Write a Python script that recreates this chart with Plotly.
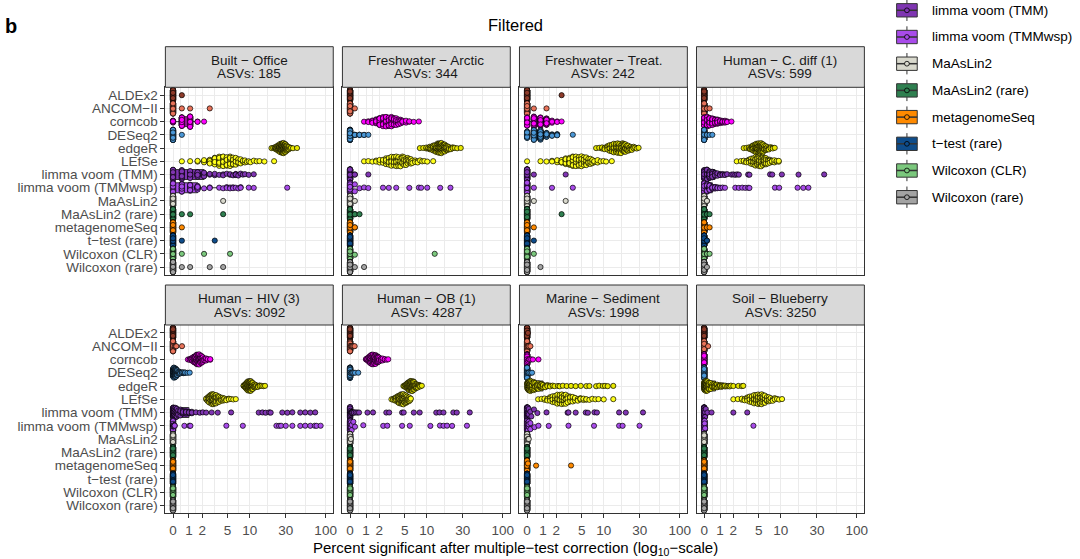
import numpy as np
import plotly.graph_objects as go

# ---------------- data ----------------
METHODS = ["ALDEx2", "ANCOM−II", "corncob", "DESeq2", "edgeR", "LEfSe",
           "limma voom (TMM)", "limma voom (TMMwsp)", "MaAsLin2", "MaAsLin2 (rare)",
           "metagenomeSeq", "t−test (rare)", "Wilcoxon (CLR)", "Wilcoxon (rare)"]
COLORS = ["#8E3B2A", "#E8735A", "#FF00FF", "#4A97D6", "#E8E800", "#FFFF1A",
          "#7F35B2", "#A84BEA", "#D8D8CC", "#2F8050", "#FF8A00", "#0E4C8A",
          "#7BC87D", "#A3A3A3"]
PANEL_TITLES = ["Built − Office", "Freshwater − Arctic", "Freshwater − Treat.", "Human − C. diff (1)",
                "Human − HIV (3)", "Human − OB (1)", "Marine − Sediment", "Soil − Blueberry"]
ASVS = [185, 344, 242, 599, 3092, 4287, 1998, 3250]
X_TICKS = [0, 1, 2, 5, 10, 30, 100]

# each entry: per method (METHODS order) list of (percent significant, number of replicates)
built_office = [
    [(0, 99), (0.54, 1)],
    [(0, 97), (0.54, 1), (1.08, 1), (2.70, 1)],
    [(0, 10), (0.54, 40), (1.08, 47), (1.62, 2), (2.16, 1)],
    [(0, 99), (0.54, 1)],
    [(19.46, 1), (20.54, 1), (21.62, 2), (22.16, 2), (22.70, 3), (23.24, 3), (23.78, 4), (24.32, 5), (24.86, 5),
     (25.41, 6), (25.95, 6), (26.49, 7), (27.03, 7), (27.57, 6), (28.11, 7), (28.65, 6), (29.19, 6), (29.73, 5),
     (30.27, 4), (30.81, 3), (31.35, 3), (31.89, 2), (32.97, 2), (34.05, 1), (35.14, 1), (37.30, 1), (42.16, 1)],
    [(0.54, 1), (1.08, 1), (1.62, 2), (2.16, 4), (2.70, 7), (3.24, 10), (3.78, 12), (4.32, 12), (4.86, 10),
     (5.41, 9), (5.95, 7), (6.49, 6), (7.03, 4), (7.57, 3), (8.11, 2), (8.65, 2), (9.19, 1), (9.73, 1),
     (10.27, 1), (11.35, 1), (12.43, 1), (13.51, 1), (15.68, 1), (21.08, 1)],
    [(0, 35), (0.54, 18), (1.08, 12), (1.62, 8), (2.16, 7), (2.70, 2), (3.24, 2), (3.78, 1), (4.32, 2), (4.86, 1),
     (5.41, 2), (5.95, 1), (6.49, 3), (7.03, 1), (7.57, 1), (8.11, 1), (8.65, 1), (9.73, 1), (11.35, 1)],
    [(0, 40), (0.54, 18), (1.08, 14), (1.62, 10), (2.16, 1), (2.70, 2), (3.78, 1), (4.32, 1), (4.86, 2),
     (5.41, 2), (5.95, 2), (6.49, 1), (7.03, 1), (7.57, 2), (9.73, 1), (11.35, 1), (31.35, 1)],
    [(0, 99), (4.32, 1)],
    [(0, 97), (0.54, 1), (1.08, 1), (4.32, 1)],
    [(0, 99), (0.54, 1)],
    [(0, 98), (0.54, 1), (3.24, 1)],
    [(0, 97), (0.54, 1), (2.16, 1), (5.41, 1)],
    [(0, 96), (0.54, 1), (1.08, 1), (2.70, 1), (4.32, 1)],
]

freshwater_arctic = [
    [(0, 100)],
    [(0, 99), (0.29, 1)],
    [(0.87, 1), (1.16, 2), (1.45, 4), (1.74, 7), (2.03, 10), (2.33, 12), (2.62, 12), (2.91, 11), (3.20, 9),
     (3.49, 8), (3.78, 6), (4.07, 5), (4.36, 4), (4.65, 3), (5.23, 2), (5.81, 2), (6.69, 1), (7.85, 1)],
    [(0, 90), (0.29, 4), (0.58, 3), (0.87, 2), (1.16, 1)],
    [(8.1, 1), (9.0, 1), (9.9, 2), (10.5, 2), (11.0, 3), (11.6, 4), (12.2, 5), (12.8, 6), (13.4, 7), (14.0, 8),
     (14.5, 8), (15.1, 8), (15.4, 1), (15.7, 8), (16.3, 7), (16.9, 6), (17.4, 5), (18.0, 4), (18.9, 4),
     (19.8, 3), (20.9, 2), (22.1, 2), (23.5, 1), (25.3, 1), (28.2, 1)],
    [(0.87, 1), (1.16, 1), (1.45, 1), (1.74, 2), (2.03, 3), (2.33, 4), (2.62, 6), (2.91, 7), (3.20, 8),
     (3.49, 8), (3.78, 8), (4.07, 7), (4.36, 7), (4.65, 6), (4.94, 5), (5.23, 5), (5.52, 4), (5.81, 3),
     (6.10, 3), (6.40, 2), (6.98, 2), (7.56, 2), (8.14, 1), (8.72, 1), (9.30, 1), (10.17, 1), (12.21, 1)],
    [(0, 97), (0.29, 2), (1.16, 1)],
    [(0, 86), (0.29, 2), (0.58, 1), (0.87, 1), (1.16, 1), (2.33, 1), (2.91, 1), (3.78, 1), (5.81, 1),
     (7.85, 1), (8.43, 1), (10.17, 1), (15.12, 1), (20.64, 1)],
    [(0, 99), (0.29, 1)],
    [(0, 97), (0.29, 2), (0.58, 1)],
    [(0, 98), (0.29, 2)],
    [(0, 100)],
    [(0, 98), (0.29, 1), (12.79, 1)],
    [(0, 98), (0.29, 1), (0.87, 1)],
]

freshwater_treat = [
    [(0, 99), (2.48, 1)],
    [(0, 98), (0.41, 1), (1.24, 1)],
    [(0, 25), (0.41, 28), (0.83, 22), (1.24, 18), (1.65, 4), (2.07, 2), (2.48, 1)],
    [(0, 20), (0.41, 30), (0.83, 28), (1.24, 12), (1.65, 5), (2.07, 4), (3.72, 1)],
    [(7.9, 1), (8.7, 1), (9.5, 2), (10.3, 3), (11.2, 4), (12.0, 6), (12.8, 7), (13.6, 8), (14.5, 8), (15.3, 8),
     (16.1, 8), (16.9, 7), (17.8, 7), (18.6, 6), (19.4, 5), (20.2, 4), (21.1, 3), (21.9, 3), (22.7, 2),
     (23.6, 2), (24.8, 2), (26.0, 1), (27.3, 1), (28.9, 1)],
    [(0, 1), (0.83, 1), (1.24, 1), (1.65, 2), (2.07, 3), (2.48, 5), (2.89, 7), (3.31, 9), (3.72, 11), (4.13, 10),
     (4.55, 9), (4.96, 8), (5.37, 7), (5.79, 6), (6.20, 5), (6.61, 4), (7.02, 3), (7.44, 2), (8.26, 2),
     (9.09, 1), (9.92, 1), (10.74, 1), (12.81, 1)],
    [(0, 98), (0.41, 1), (2.89, 1)],
    [(0, 97), (0.41, 1), (1.65, 1), (3.72, 1)],
    [(0, 98), (0.41, 1), (2.89, 1)],
    [(0, 99), (2.48, 1)],
    [(0, 99), (0.41, 1)],
    [(0, 99), (0.41, 1)],
    [(0, 99), (0.41, 1)],
    [(0, 99), (0.83, 1)],
]

human_cdiff = [
    [(0, 100)],
    [(0, 97), (0.17, 2), (0.33, 1)],
    [(0, 25), (0.17, 18), (0.33, 14), (0.50, 11), (0.67, 9), (0.83, 8), (1.00, 5), (1.17, 4), (1.34, 3),
     (1.50, 2), (1.84, 1)],
    [(0, 96), (0.17, 2), (0.33, 1), (0.50, 1)],
    [(3.0, 1), (3.3, 1), (3.6, 2), (3.8, 3), (4.0, 4), (4.2, 6), (4.4, 7), (4.6, 8), (4.8, 9), (5.0, 9),
     (5.2, 9), (5.4, 8), (5.6, 7), (5.8, 6), (6.0, 5), (6.3, 4), (6.6, 3), (6.9, 3), (7.3, 2), (7.8, 2), (8.3, 1)],
    [(2.3, 1), (2.7, 1), (3.0, 2), (3.3, 3), (3.6, 4), (3.9, 6), (4.2, 8), (4.5, 9), (4.8, 10), (5.1, 10),
     (5.4, 9), (5.7, 8), (6.0, 7), (6.3, 5), (6.7, 4), (7.1, 4), (7.6, 3), (8.2, 2), (8.8, 2), (9.4, 2)],
    [(0, 30), (0.17, 18), (0.33, 14), (0.50, 9), (0.67, 6), (0.83, 3), (1.00, 3), (1.17, 2), (1.34, 2),
     (1.50, 1), (1.84, 1), (2.00, 1), (2.17, 1), (2.34, 1), (2.50, 1), (3.51, 1), (3.67, 1), (7.18, 1),
     (7.68, 1), (10.35, 1), (17.20, 1), (37.40, 1)],
    [(0, 42), (0.17, 18), (0.33, 12), (0.50, 6), (0.67, 4), (0.83, 3), (1.00, 2), (1.17, 1), (1.34, 1),
     (2.17, 1), (2.50, 1), (2.84, 1), (3.17, 1), (3.51, 1), (3.67, 1), (8.35, 1), (9.52, 1), (16.70, 1),
     (19.87, 1), (23.21, 1)],
    [(0, 98), (0.17, 2)],
    [(0, 97), (0.17, 2), (0.33, 1)],
    [(0, 97), (0.17, 2), (0.33, 1)],
    [(0, 98), (0.17, 2)],
    [(0, 97), (0.17, 2), (0.33, 1)],
    [(0, 99), (0.17, 1)],
]

human_hiv = [
    [(0, 100)],
    [(0, 96), (0.10, 1), (0.16, 1), (0.20, 1), (0.55, 1)],
    [(0.93, 1), (1.05, 2), (1.15, 3), (1.25, 5), (1.35, 7), (1.45, 10), (1.55, 12), (1.65, 13), (1.75, 12),
     (1.85, 10), (1.95, 8), (2.05, 6), (2.20, 4), (2.35, 3), (2.50, 2), (2.75, 2)],
    [(0, 15), (0.03, 10), (0.06, 10), (0.10, 10), (0.13, 9), (0.16, 8), (0.19, 7), (0.23, 6), (0.26, 5),
     (0.32, 4), (0.39, 4), (0.45, 3), (0.55, 3), (0.65, 2), (0.75, 2), (0.90, 1), (1.05, 1)],
    [(8.3, 2), (8.6, 4), (8.9, 6), (9.2, 9), (9.5, 11), (9.8, 12), (10.1, 11), (10.4, 10), (10.7, 8), (11.0, 7),
     (11.4, 5), (11.8, 4), (12.3, 3), (12.9, 3), (13.6, 2), (14.4, 1), (15.2, 1), (16.0, 1)],
    [(2.35, 2), (2.50, 5), (2.65, 8), (2.80, 11), (2.95, 12), (3.10, 11), (3.25, 10), (3.40, 8), (3.60, 7),
     (3.80, 6), (4.00, 5), (4.25, 4), (4.50, 3), (4.80, 3), (5.20, 2), (5.60, 1), (6.00, 1), (6.50, 1)],
    [(0, 28), (0.03, 6), (0.06, 6), (0.10, 6), (0.16, 5), (0.23, 5), (0.32, 5), (0.45, 5), (0.60, 4), (0.80, 4),
     (1.00, 4), (1.20, 3), (1.50, 1), (1.80, 1), (2.05, 1), (2.35, 1), (2.90, 1), (3.60, 1), (5.60, 1),
     (13.2, 1), (14.8, 1), (16.3, 1), (18.2, 1), (19.0, 1), (27.0, 1), (31.5, 1), (36.6, 1), (46.5, 1),
     (54.0, 1), (63.0, 1), (73.0, 1)],
    [(0, 74), (0.03, 5), (0.06, 3), (0.10, 2), (0.70, 1), (1.03, 1), (1.10, 1), (4.80, 1), (8.10, 1),
     (22.6, 1), (24.5, 1), (26.0, 1), (30.0, 1), (36.6, 1), (46.5, 1), (54.0, 1), (63.0, 1), (72.0, 1),
     (76.0, 1), (86.0, 1)],
    [(0, 100)],
    [(0, 100)],
    [(0, 100)],
    [(0, 100)],
    [(0, 100)],
    [(0, 100)],
]

human_ob = [
    [(0, 100)],
    [(0, 95), (0.05, 1), (0.10, 1), (0.14, 1), (0.20, 1), (0.28, 1)],
    [(1.0, 2), (1.1, 4), (1.2, 7), (1.3, 10), (1.4, 12), (1.5, 13), (1.6, 12), (1.7, 10), (1.8, 8), (1.9, 6),
     (2.0, 5), (2.15, 4), (2.3, 3), (2.5, 2), (2.7, 1), (2.85, 1)],
    [(0, 94), (0.05, 1), (0.10, 1), (0.14, 1), (0.20, 1), (0.30, 1), (0.50, 1)],
    [(4.8, 1), (5.0, 2), (5.2, 4), (5.4, 6), (5.6, 8), (5.8, 10), (6.0, 11), (6.2, 11), (6.4, 10), (6.6, 9),
     (6.8, 8), (7.0, 6), (7.3, 5), (7.6, 4), (7.9, 2), (8.2, 2), (8.6, 1)],
    [(3.2, 1), (3.4, 2), (3.6, 4), (3.8, 6), (4.0, 8), (4.2, 10), (4.4, 11), (4.6, 12), (4.8, 11), (5.0, 10),
     (5.2, 8), (5.4, 6), (5.6, 5), (5.8, 3), (6.0, 2), (6.1, 1)],
    [(0, 68), (0.02, 4), (0.05, 4), (0.10, 3), (0.15, 2), (0.24, 2), (0.35, 1), (0.45, 1), (0.55, 1), (1.10, 1),
     (1.50, 1), (2.65, 1), (2.95, 1), (4.60, 1), (4.85, 1), (6.70, 1), (8.05, 1), (13.4, 1), (14.8, 1),
     (16.7, 1), (22.5, 1), (25.0, 1), (37.0, 1)],
    [(0, 79), (0.02, 3), (0.05, 3), (0.10, 2), (0.20, 1), (0.30, 1), (0.82, 1), (2.35, 1), (2.75, 1),
     (4.60, 1), (5.90, 1), (11.2, 1), (15.0, 1), (16.7, 1), (18.6, 1), (21.7, 1), (34.0, 1)],
    [(0, 99), (0.05, 1)],
    [(0, 100)],
    [(0, 100)],
    [(0, 100)],
    [(0, 100)],
    [(0, 100)],
]

marine_sediment = [
    [(0, 99), (0.05, 1)],
    [(0, 97), (0.05, 1), (0.10, 1), (0.20, 1)],
    [(0, 94), (0.05, 1), (0.10, 1), (0.15, 1), (0.25, 1), (0.35, 1), (0.70, 1)],
    [(0, 96), (0.05, 1), (0.10, 1), (0.20, 1), (0.30, 1)],
    [(0, 4), (0.05, 8), (0.10, 8), (0.15, 7), (0.20, 7), (0.25, 6), (0.30, 6), (0.40, 6), (0.50, 5), (0.60, 5),
     (0.70, 4), (0.80, 4), (0.90, 3), (1.00, 3), (1.15, 3), (1.30, 2), (1.50, 2), (1.70, 1), (1.85, 1),
     (2.15, 1), (2.30, 1), (2.60, 1), (3.00, 1), (3.50, 1), (4.10, 1), (4.85, 1), (5.80, 1), (6.40, 1),
     (7.90, 1), (8.70, 1), (9.70, 1), (10.4, 1), (11.3, 1), (13.4, 1)],
    [(0.68, 1), (0.9, 1), (1.1, 2), (1.3, 3), (1.5, 4), (1.7, 6), (1.9, 7), (2.1, 8), (2.3, 9), (2.5, 9),
     (2.7, 8), (2.9, 7), (3.1, 6), (3.4, 5), (3.7, 4), (4.0, 4), (4.4, 3), (4.8, 3), (5.3, 2), (5.8, 2),
     (6.4, 1), (7.0, 1), (7.7, 1), (8.5, 1), (10.0, 1), (13.4, 1)],
    [(0, 76), (0.05, 5), (0.10, 4), (0.20, 1), (0.26, 1), (0.42, 1), (0.63, 1), (1.24, 1), (3.10, 1), (3.20, 1),
     (4.10, 1), (5.70, 1), (6.10, 1), (7.50, 1), (8.10, 1), (16.0, 1), (19.6, 1), (33.0, 1)],
    [(0, 82), (0.05, 5), (0.10, 3), (0.20, 2), (0.45, 1), (0.70, 1), (1.40, 1), (3.20, 1), (7.40, 1),
     (16.0, 1), (17.8, 1), (29.7, 1)],
    [(0, 98), (0.05, 1), (0.10, 1)],
    [(0, 100)],
    [(0, 97), (0.05, 1), (0.55, 1), (3.50, 1)],
    [(0, 100)],
    [(0, 100)],
    [(0, 100)],
]

soil_blueberry = [
    [(0, 100)],
    [(0, 99), (0.24, 1)],
    [(0, 100)],
    [(0, 100)],
    [(0, 8), (0.03, 7), (0.06, 7), (0.09, 7), (0.12, 7), (0.15, 6), (0.20, 6), (0.25, 6), (0.30, 5), (0.40, 5),
     (0.50, 5), (0.60, 4), (0.70, 4), (0.80, 3), (0.90, 3), (1.00, 3), (1.10, 1), (1.15, 2), (1.25, 1),
     (1.35, 2), (1.50, 1), (1.60, 1), (1.70, 1), (1.80, 1), (2.00, 1), (2.45, 1), (2.80, 1), (2.95, 1)],
    [(2.0, 1), (2.4, 1), (2.8, 2), (3.1, 3), (3.4, 4), (3.7, 6), (4.0, 7), (4.3, 8), (4.6, 9), (4.9, 9),
     (5.2, 9), (5.5, 8), (5.8, 7), (6.1, 6), (6.5, 5), (6.9, 4), (7.3, 3), (7.8, 3), (8.3, 2), (8.9, 1),
     (9.5, 1), (10.4, 1)],
    [(0, 90), (0.03, 3), (0.06, 2), (0.10, 1), (0.20, 1), (0.45, 1), (2.00, 1), (3.40, 1)],
    [(0, 95), (0.03, 3), (0.06, 1), (4.20, 1)],
    [(0, 100)],
    [(0, 100)],
    [(0, 100)],
    [(0, 100)],
    [(0, 100)],
    [(0, 100)],
]

PANELS = [built_office, freshwater_arctic, freshwater_treat, human_cdiff,
          human_hiv, human_ob, marine_sediment, soil_blueberry]

# ---------------- helpers ----------------
W, H = 1080, 559
FONT = "Liberation Sans, Arial, sans-serif"
COL_X = [(166.0, 334.5), (343.7, 512.2), (521.4, 689.9), (699.1, 867.6)]
ROW_PANEL = [(87.3, 275.0), (325.0, 513.3)]
ROW_STRIP = [(46.7, 87.3), (285.0, 325.0)]


def expand(pairs):
    out = []
    for v, c in pairs:
        out.extend([v] * c)
    return np.array(out, dtype=float)


def tr(v):
    # pseudo-log (sigma = 1) transform used by the x scale
    return np.arcsinh(np.asarray(v, dtype=float) / 2.0)


def van_der_corput(n):
    res = np.empty(n)
    for i in range(1, n + 1):
        x, denom, k = 0.0, 1.0, i
        while k:
            denom *= 2.0
            k, r = divmod(k, 2)
            x += r / denom
        res[i - 1] = x
    return res


def quasirandom(t, width=0.4):
    n = len(t)
    if n < 2:
        return np.zeros(n)
    sd = np.std(t, ddof=1)
    q75, q25 = np.percentile(t, [75, 25])
    lo = min(sd, (q75 - q25) / 1.34)
    if lo <= 0:
        lo = sd if sd > 0 else (abs(t[0]) if t[0] != 0 else 1.0)
    bw = 0.9 * lo * n ** -0.2
    dens = np.exp(-0.5 * ((t[:, None] - t[None, :]) / bw) ** 2).sum(axis=1)
    grid = np.linspace(t.min() - 3 * bw, t.max() + 3 * bw, 1024)
    gd = np.exp(-0.5 * ((grid[:, None] - t[None, :]) / bw) ** 2).sum(axis=1)
    dens = dens / gd.max()
    ranks = np.argsort(np.argsort(t, kind="stable"), kind="stable")
    vdc = van_der_corput(n)
    return (vdc[ranks] - 0.5) * 2 * dens * width


def box_stats(t):
    q1, med, q3 = np.percentile(t, [25, 50, 75])
    iqr = q3 - q1
    lf = t[t >= q1 - 1.5 * iqr].min()
    uf = t[t <= q3 + 1.5 * iqr].max()
    return q1, med, q3, lf, uf


def px(x):
    return x / W


def py(y):
    return 1 - y / H


# ---------------- figure ----------------
fig = go.Figure()
layout = dict(width=W, height=H, margin=dict(l=0, r=0, t=0, b=0),
              paper_bgcolor="white", plot_bgcolor="white", showlegend=False,
              font=dict(family=FONT, color="#000000"))

major_t = tr(X_TICKS)
minor_t = [(a + b) / 2 for a, b in zip(major_t[:-1], major_t[1:])]
x_range = [-0.05 * major_t[-1], 1.05 * major_t[-1]]

shapes = []
annotations = []

for p, panel in enumerate(PANELS):
    r, c = divmod(p, 4)
    sfx = "" if p == 0 else str(p + 1)
    xa, ya = "x" + sfx, "y" + sfx

    # boxes
    for mi, pairs in enumerate(panel):
        t = tr(expand(pairs))
        q1, med, q3, lf, uf = box_stats(t)
        fig.add_trace(go.Box(
            y=[mi], q1=[q1], median=[med], q3=[q3], lowerfence=[lf], upperfence=[uf],
            orientation="h", width=0.75, fillcolor=COLORS[mi],
            line=dict(color="#333333", width=1), whiskerwidth=0, boxpoints=False,
            xaxis=xa, yaxis=ya, hoverinfo="skip"))

    # points
    xs, ys, cs = [], [], []
    for mi, pairs in enumerate(panel):
        t = tr(expand(pairs))
        off = quasirandom(t)
        xs.extend(t.tolist())
        ys.extend((mi + off).tolist())
        cs.extend([COLORS[mi]] * len(t))
    fig.add_trace(go.Scatter(
        x=xs, y=ys, mode="markers",
        marker=dict(size=5.2, color=cs, line=dict(color="#000000", width=0.7)),
        xaxis=xa, yaxis=ya, hoverinfo="skip"))

    x0, x1 = COL_X[c]
    y0, y1 = ROW_PANEL[r]
    layout["xaxis" + sfx] = dict(
        domain=[px(x0), px(x1)], range=x_range, anchor=ya,
        tickmode="array", tickvals=list(major_t), ticktext=[str(v) for v in X_TICKS],
        showticklabels=(r == 1), ticks="outside" if r == 1 else "", ticklen=4,
        tickcolor="#333333", tickwidth=1,
        tickfont=dict(size=13.5, color="#4D4D4D", family=FONT),
        showgrid=True, gridcolor="#EBEBEB", gridwidth=1.1, zeroline=False,
        showline=True, mirror=True, linecolor="#333333", linewidth=1,
        minor=dict(tickmode="array", tickvals=minor_t, showgrid=True,
                   gridcolor="#EBEBEB", gridwidth=0.6, ticks=""),
        fixedrange=True)
    layout["yaxis" + sfx] = dict(
        domain=[py(y1), py(y0)], range=[13.6, -0.6], anchor=xa,
        tickmode="array", tickvals=list(range(len(METHODS))), ticktext=METHODS,
        showticklabels=(c == 0), ticks="outside" if c == 0 else "", ticklen=4,
        tickcolor="#333333", tickwidth=1,
        tickfont=dict(size=13.5, color="#4D4D4D", family=FONT),
        showgrid=True, gridcolor="#EBEBEB", gridwidth=1.1, zeroline=False,
        showline=True, mirror=True, linecolor="#333333", linewidth=1,
        fixedrange=True)

    # strip
    s0, s1 = ROW_STRIP[r]
    shapes.append(dict(type="rect", xref="paper", yref="paper",
                       x0=px(x0), x1=px(x1), y0=py(s1), y1=py(s0),
                       fillcolor="#D9D9D9", line=dict(color="#333333", width=1), layer="above"))
    cx = (x0 + x1) / 2
    sc = (s0 + s1) / 2
    annotations.append(dict(text=PANEL_TITLES[p], x=px(cx), y=py(sc - 7), xref="paper", yref="paper",
                            showarrow=False, xanchor="center", yanchor="middle",
                            font=dict(size=13.5, color="#1A1A1A", family=FONT)))
    annotations.append(dict(text="ASVs: %d" % ASVS[p], x=px(cx), y=py(sc + 7), xref="paper", yref="paper",
                            showarrow=False, xanchor="center", yanchor="middle",
                            font=dict(size=13.5, color="#1A1A1A", family=FONT)))

# titles
annotations.append(dict(text="<b>b</b>", x=px(3), y=py(26), xref="paper", yref="paper", showarrow=False,
                        xanchor="left", yanchor="middle", font=dict(size=20, color="#000000", family=FONT)))
annotations.append(dict(text="Filtered", x=px(517), y=py(25), xref="paper", yref="paper", showarrow=False,
                        xanchor="center", yanchor="middle", font=dict(size=16.5, color="#000000", family=FONT)))
annotations.append(dict(text="Percent significant after multiple−test correction (log<sub>10</sub>−scale)",
                        x=px(517), y=py(548), xref="paper", yref="paper", showarrow=False,
                        xanchor="center", yanchor="middle", font=dict(size=15, color="#000000", family=FONT)))

# legend (visible part: entries 7..14)
kx, kw, kh = 910.3, 27.6, 26.7
for k, mi in enumerate(range(6, 14)):
    yc = 10.3 + kh * k
    col = COLORS[mi]
    top = yc - kh / 2
    shapes.append(dict(type="line", xref="paper", yref="paper", x0=px(kx), x1=px(kx),
                       y0=py(top + 0.1 * kh), y1=py(top + 0.25 * kh), line=dict(color="#333333", width=1)))
    shapes.append(dict(type="line", xref="paper", yref="paper", x0=px(kx), x1=px(kx),
                       y0=py(top + 0.75 * kh), y1=py(top + 0.9 * kh), line=dict(color="#333333", width=1)))
    shapes.append(dict(type="rect", xref="paper", yref="paper",
                       x0=px(kx - 0.375 * kw), x1=px(kx + 0.375 * kw),
                       y0=py(top + 0.75 * kh), y1=py(top + 0.25 * kh),
                       fillcolor=col, line=dict(color="#333333", width=1)))
    shapes.append(dict(type="line", xref="paper", yref="paper",
                       x0=px(kx - 0.375 * kw), x1=px(kx + 0.375 * kw), y0=py(yc), y1=py(yc),
                       line=dict(color="#333333", width=1.5)))
    shapes.append(dict(type="circle", xref="paper", yref="paper",
                       x0=px(kx - 2.4), x1=px(kx + 2.4), y0=py(yc + 2.4), y1=py(yc - 2.4),
                       fillcolor=col, line=dict(color="#000000", width=0.8)))
    annotations.append(dict(text=METHODS[mi], x=px(933.3), y=py(yc), xref="paper", yref="paper",
                            showarrow=False, xanchor="left", yanchor="middle",
                            font=dict(size=13.5, color="#000000", family=FONT)))

layout["shapes"] = shapes
layout["annotations"] = annotations
fig.update_layout(**layout)
fig.write_html("out.html", config={"displayModeBar": False},
               post_script="document.body.style.margin='0px';document.body.style.overflow='hidden';")
